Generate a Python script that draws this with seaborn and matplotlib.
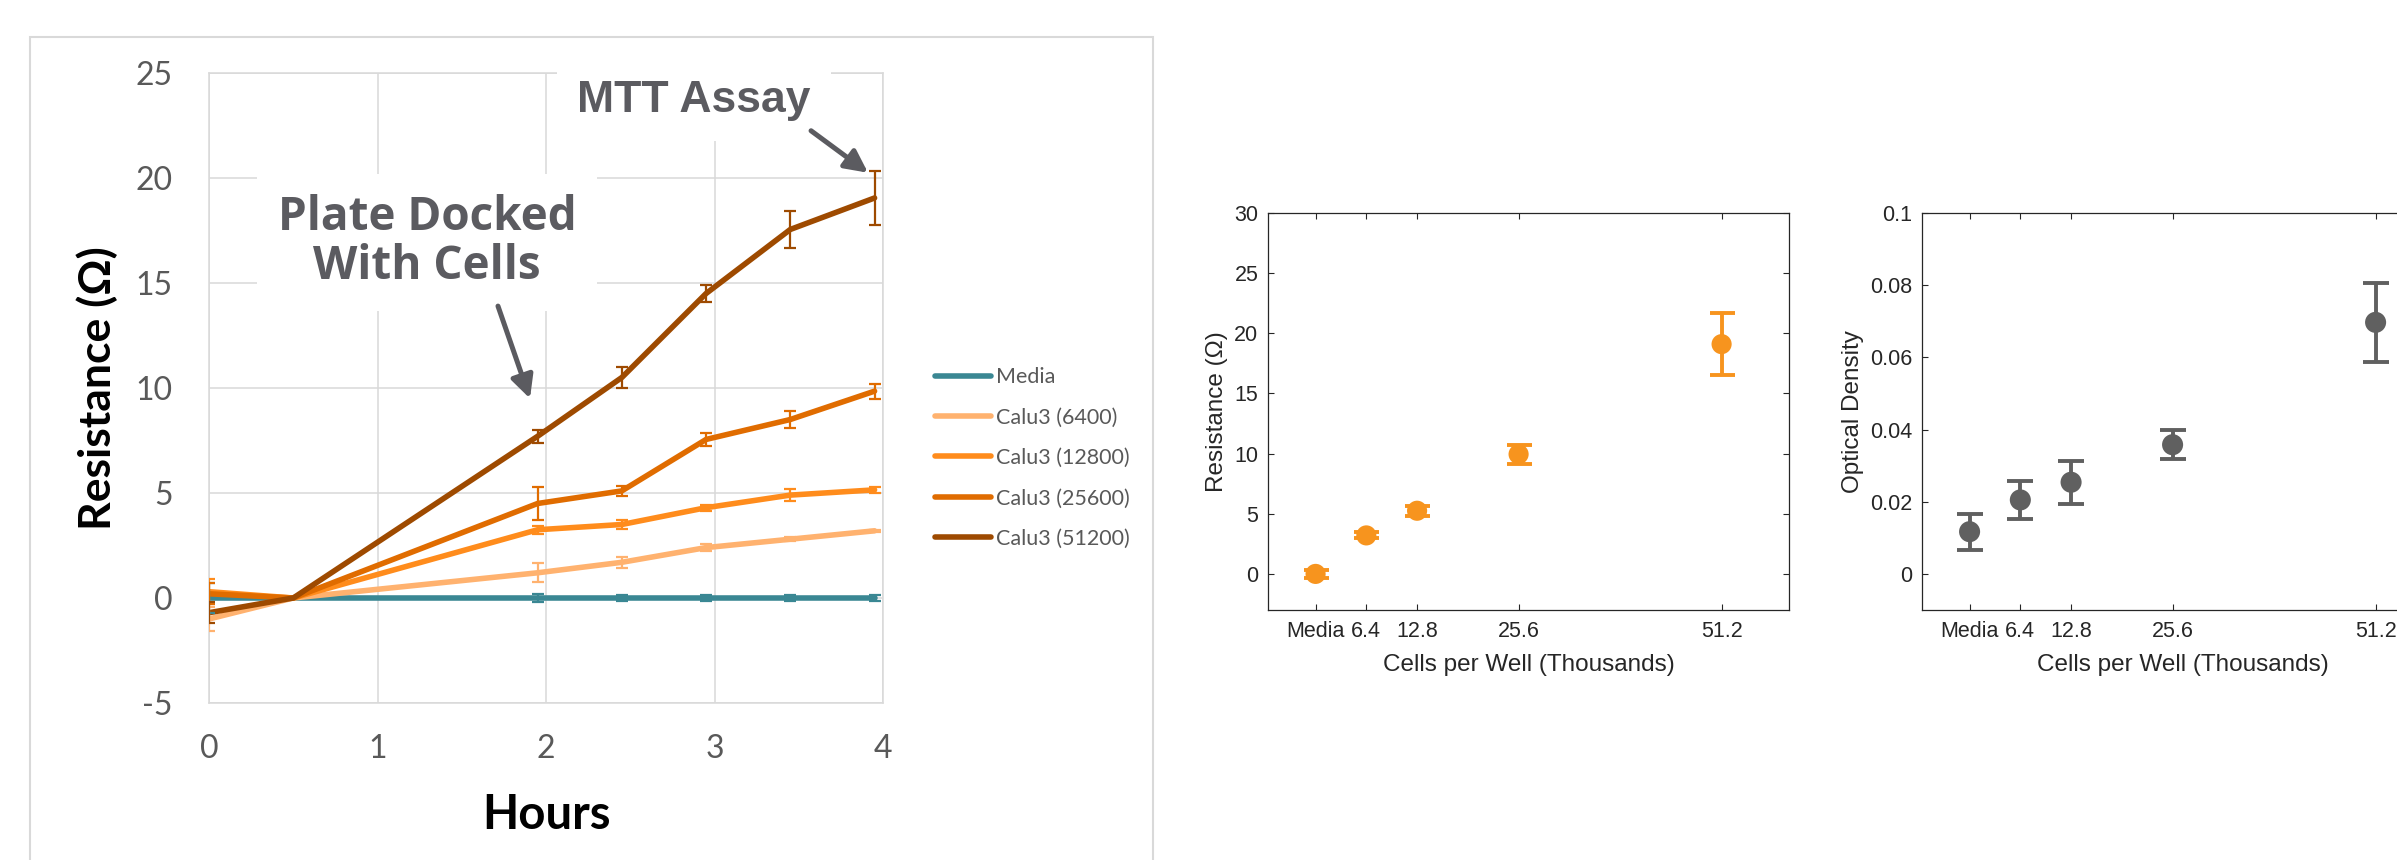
"""Resistance over time (Excel-style) plus endpoint resistance and MTT optical density."""

import matplotlib

matplotlib.use("Agg")
import matplotlib.pyplot as plt
from matplotlib.lines import Line2D
from matplotlib.patches import Rectangle
import pandas as pd
import seaborn as sns

# ---- data: time course ----
hours = [0, 0.5, 1.95, 2.45, 2.95, 3.45, 3.95]
series = ["Media", "Calu3 (6400)", "Calu3 (12800)", "Calu3 (25600)", "Calu3 (51200)"]
media = [0.0, 0.0, 0.0, 0.0, 0.0, 0.0, 0.0]
media_err = [0.7, 0.0, 0.2, 0.12, 0.15, 0.12, 0.15]
calu_6400 = [-1.0, 0.0, 1.2, 1.7, 2.4, 2.8, 3.2]
calu_6400_err = [0.55, 0.0, 0.45, 0.25, 0.15, 0.1, 0.05]
calu_12800 = [0.3, 0.0, 3.25, 3.5, 4.3, 4.9, 5.15]
calu_12800_err = [0.6, 0.0, 0.2, 0.2, 0.15, 0.3, 0.15]
calu_25600 = [0.2, 0.0, 4.5, 5.1, 7.55, 8.5, 9.85]
calu_25600_err = [0.5, 0.0, 0.8, 0.25, 0.3, 0.4, 0.35]
calu_51200 = [-0.7, 0.0, 7.7, 10.5, 14.5, 17.55, 19.05]
calu_51200_err = [0.5, 0.0, 0.3, 0.5, 0.4, 0.9, 1.3]
hour_ticks = [0, 1, 2, 3, 4]
ohm_ticks = [-5, 0, 5, 10, 15, 20, 25]

# ---- data: endpoint ----
cells = [0, 6.4, 12.8, 25.6, 51.2]
cell_labels = ["Media", "6.4", "12.8", "25.6", "51.2"]
resistance = [0.0, 3.2, 5.25, 9.95, 19.1]
resistance_err = [0.3, 0.25, 0.4, 0.8, 2.6]
res_ticks = [0, 5, 10, 15, 20, 25, 30]
od = [0.0117, 0.0205, 0.0254, 0.0358, 0.0697]
od_err = [0.005, 0.0053, 0.006, 0.004, 0.011]
od_ticks = [0, 0.02, 0.04, 0.06, 0.08, 0.1]

palette = ["#3A8793", "#FFB26F", "#FF8C1C", "#E06C00", "#9E4A00"]
ANNOT = "#5B5B60"
EXCEL_TXT = "#595959"
EXCEL_GRID = "#D9D9D9"
MAT_TXT = "#262626"
ORANGE = "#F7941E"
GRAY = "#606060"

W, H = 2397, 860

sns.set_theme(style="white")
plt.rcParams["font.family"] = ["Lato", "DejaVu Sans"]
ARIAL = ["Liberation Sans", "DejaVu Sans"]


def build_frame() -> pd.DataFrame:
    values = [media, calu_6400, calu_12800, calu_25600, calu_51200]
    errors = [media_err, calu_6400_err, calu_12800_err, calu_25600_err, calu_51200_err]
    rows = []
    for name, vals, errs in zip(series, values, errors):
        for t, v, e in zip(hours, vals, errs):
            rows.append({"hours": t, "ohm": v, "err": e, "series": name})
    return pd.DataFrame(rows)


def px_axes(fig, left, top, right, bottom):
    return fig.add_axes([left / W, 1 - bottom / H, (right - left) / W, (bottom - top) / H])


def plot_timecourse(fig):
    df = build_frame()
    ax = px_axes(fig, 209, 73, 883, 703)
    ax.set_axisbelow(True)
    sns.lineplot(data=df, x="hours", y="ohm", hue="series", hue_order=series,
                 palette=palette, lw=4, errorbar=None, legend=False, ax=ax,
                 solid_capstyle="round", solid_joinstyle="round")
    for name, color in zip(series, palette):
        sub = df[df["series"] == name]
        sub = sub[sub["err"] > 0]
        ax.errorbar(sub["hours"], sub["ohm"], yerr=sub["err"], fmt="none",
                    ecolor=color, elinewidth=1.6, capsize=4.3, capthick=1.6, zorder=3)
    ax.set_xlim(0, 4)
    ax.set_ylim(-5, 25)
    ax.set_xticks(hour_ticks, labels=[str(t) for t in hour_ticks])
    ax.set_yticks(ohm_ticks, labels=[str(t) for t in ohm_ticks])
    ax.tick_params(length=0, labelsize=23, labelcolor=EXCEL_TXT)
    ax.tick_params(axis="y", pad=26)
    ax.tick_params(axis="x", pad=22)
    ax.grid(True, color=EXCEL_GRID, lw=1.1)
    for sp in ax.spines.values():
        sp.set_color(EXCEL_GRID)
        sp.set_linewidth(1.1)

    ax.set_xlabel("Hours", fontsize=34, fontweight="bold", color="black")
    ax.xaxis.set_label_coords(0.5, -0.178)
    ax.xaxis.label.set_va("center")
    ax.set_ylabel("Resistance (Ω)", fontsize=32, fontweight="bold", color="black")
    ax.yaxis.set_label_coords(-0.166, 0.5)
    ax.yaxis.label.set_va("center")

    box = dict(boxstyle="square,pad=0.45", fc="white", ec="none")
    ax.text(1.294, 16.95, "Plate Docked\nWith Cells", ha="center", va="center",
            fontsize=33, fontweight="bold", color=ANNOT, linespacing=1.05,
            family=["Open Sans", "DejaVu Sans"], bbox=box, zorder=6)
    ax.text(2.878, 23.7, "MTT Assay", ha="center", va="center", fontsize=32,
            fontweight="bold", color=ANNOT, family=ARIAL, bbox=box, zorder=6,
            clip_on=False)
    arrow = dict(arrowstyle="-|>", color=ANNOT, lw=3.6, mutation_scale=34,
                 shrinkA=0, shrinkB=0)
    ax.annotate("", xy=(1.905, 9.5), xytext=(1.715, 13.9), arrowprops=arrow, zorder=7)
    ax.annotate("", xy=(3.911, 20.25), xytext=(3.573, 22.25), arrowprops=arrow,
                zorder=7, annotation_clip=False)

    handles = [Line2D([], [], color=c, lw=4, solid_capstyle="round") for c in palette]
    fig.legend(handles, series, loc="center left", bbox_to_anchor=(935 / W, 1 - 458 / H),
               frameon=False, borderpad=0, borderaxespad=0, handlelength=2.6,
               handletextpad=0.25, labelspacing=0.95, fontsize=15.5, labelcolor=EXCEL_TXT)


def style_matlab(ax, yticks, ylabel, fmt):
    ax.set_xlim(-6, 59.7)
    ax.set_xticks(cells, labels=cell_labels, family=ARIAL, fontsize=15.5, color=MAT_TXT)
    ax.set_yticks(yticks, labels=[fmt(t) for t in yticks], family=ARIAL, fontsize=15.5,
                  color=MAT_TXT)
    ax.tick_params(direction="in", length=4.3, width=0.8, color=MAT_TXT,
                   top=True, right=True, bottom=True, left=True)
    ax.tick_params(axis="y", pad=7)
    ax.tick_params(axis="x", pad=8)
    for sp in ax.spines.values():
        sp.set_visible(True)
        sp.set_color(MAT_TXT)
        sp.set_linewidth(0.9)
    ax.set_xlabel("Cells per Well (Thousands)", family=ARIAL, fontsize=17.5, color=MAT_TXT)
    ax.xaxis.set_label_coords(0.5, -0.1385)
    ax.xaxis.label.set_va("center")
    ax.set_ylabel(ylabel, family=ARIAL, fontsize=17.5, color=MAT_TXT)
    ax.yaxis.label.set_va("center")


def plot_endpoint(fig):
    ax = px_axes(fig, 1268, 213, 1789, 610)
    sns.scatterplot(x=cells, y=resistance, color=ORANGE, s=210, edgecolor="none",
                    zorder=3, ax=ax)
    ax.errorbar(cells, resistance, yerr=resistance_err, fmt="none", ecolor=ORANGE,
                elinewidth=2.8, capsize=9, capthick=2.8, zorder=2)
    ax.set_ylim(-3, 30)
    style_matlab(ax, res_ticks, "Resistance (Ω)", lambda t: f"{t:g}")
    ax.yaxis.set_label_coords(-0.098, 0.5)

    ax2 = px_axes(fig, 1922, 213, 2443, 610)
    sns.scatterplot(x=cells, y=od, color=GRAY, s=230, edgecolor="none", zorder=3, ax=ax2)
    ax2.errorbar(cells, od, yerr=od_err, fmt="none", ecolor=GRAY, elinewidth=2.8,
                 capsize=9.5, capthick=2.8, zorder=2)
    ax2.set_ylim(-0.01, 0.1)
    style_matlab(ax2, od_ticks, "Optical Density", lambda t: f"{t:g}")
    ax2.yaxis.set_label_coords(-0.132, 0.5)


def main() -> None:
    fig = plt.figure(figsize=(W / 100, H / 100), dpi=100)
    fig.patch.set_facecolor("white")
    fig.add_artist(Rectangle((30 / W, -0.05), (1153 - 30) / W, (H - 37) / H + 0.05,
                             transform=fig.transFigure, fill=False, ec=EXCEL_GRID, lw=1.5))
    plot_timecourse(fig)
    plot_endpoint(fig)
    fig.savefig("out.png", dpi=100)
    plt.close(fig)


if __name__ == "__main__":
    main()
